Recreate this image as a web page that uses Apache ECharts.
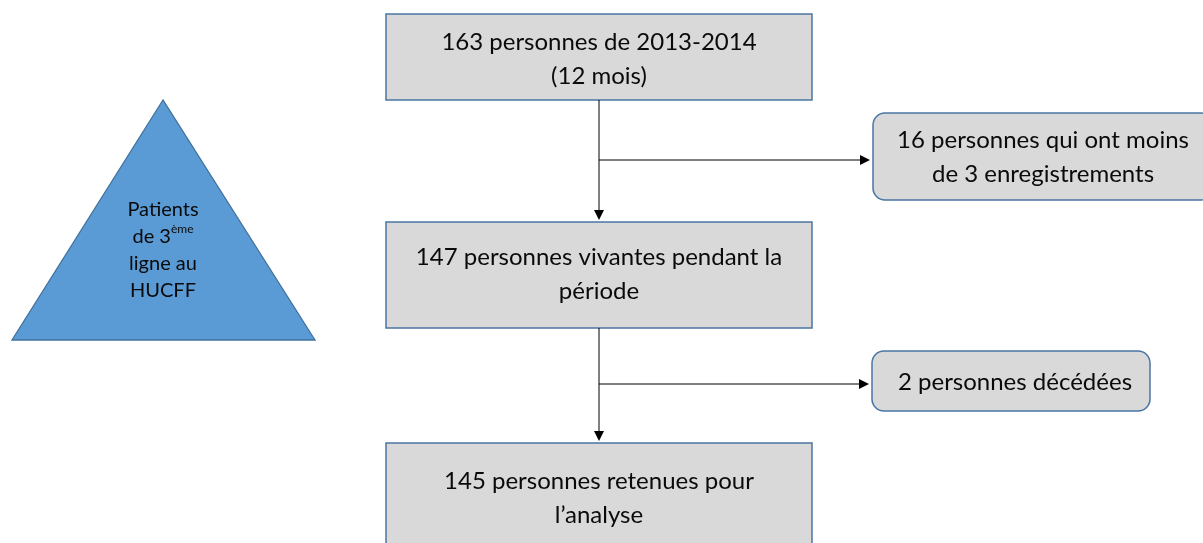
<!DOCTYPE html>
<html>
<head>
<meta charset="utf-8">
<script src="https://cdn.jsdelivr.net/npm/echarts@6/dist/echarts.min.js"></script>
<style>html,body{margin:0;padding:0;background:#fff;}#c{width:1203px;height:543px;}</style>
</head>
<body>
<div id="c"></div>
<script>
// Content
const mainBoxTexts = [
  "163 personnes de 2013-2014\n(12 mois)",
  "147 personnes vivantes pendant la\npériode",
  "145 personnes retenues pour\nl’analyse"
];
const exclusionTexts = [
  "16 personnes qui ont moins\nde 3 enregistrements",
  "2 personnes décédées"
];
const triangleText = "Patients\nde 3{sup|ème}\nligne au\nHUCFF";

// Layout (pixels)
const mainBoxes = [
  {x: 386, y: 14, w: 426, h: 86},
  {x: 386, y: 222, w: 426, h: 106},
  {x: 386, y: 443, w: 426, h: 110}
];
const exclBoxes = [
  {x: 873, y: 113, w: 340, h: 87},
  {x: 872, y: 351, w: 278, h: 60}
];
const branchY = [160, 384];
const trunkX = 599;

const FONT = 'Lato, "Open Sans", sans-serif';
const boxFill = '#d9d9d9', boxStroke = '#4a74a4';
const g = [];

// triangle
g.push({type:'polygon', shape:{points:[[163,100],[12,340],[315,340]]},
  style:{fill:'#5b9bd5', stroke:'#41719c', lineWidth:1.3}});
g.push({type:'text', x:163, y:250, style:{text:triangleText, fill:'#0a0a0a', font:'20px '+FONT,
  align:'center', verticalAlign:'middle', lineHeight:27,
  rich:{sup:{fontSize:12, verticalAlign:'top', lineHeight:27, padding:[0,0,12,0], fontFamily:FONT}}}});

// main boxes
mainBoxes.forEach((b,i)=>{
  g.push({type:'rect', shape:{x:b.x,y:b.y,width:b.w,height:b.h},
    style:{fill:boxFill, stroke:boxStroke, lineWidth:1.5}});
  const cy = i===2 ? 498 : b.y + b.h/2 + (i===0 ? 2 : -1);
  g.push({type:'text', x:b.x+b.w/2, y:cy, style:{text:mainBoxTexts[i], fill:'#0a0a0a',
    font:'24px '+FONT, align:'center', verticalAlign:'middle', lineHeight:34}});
});
// exclusion boxes
exclBoxes.forEach((b,i)=>{
  g.push({type:'rect', shape:{x:b.x,y:b.y,width:b.w,height:b.h, r:12},
    style:{fill:boxFill, stroke:boxStroke, lineWidth:1.5}});
  const cx = i===0 ? 1043 : b.x + b.w/2 + 4;
  g.push({type:'text', x:cx, y:b.y+b.h/2+1, style:{text:exclusionTexts[i], fill:'#0a0a0a',
    font:'24px '+FONT, align:'center', verticalAlign:'middle', lineHeight:34}});
});

// connectors
for (let i=0;i<2;i++){
  const top = mainBoxes[i].y + mainBoxes[i].h;
  const bot = mainBoxes[i+1].y - 2;
  g.push({type:'line', shape:{x1:trunkX,y1:top,x2:trunkX,y2:bot-9}, style:{stroke:'#000', lineWidth:1}});
  g.push({type:'polygon', shape:{points:[[trunkX-5,bot-10],[trunkX+5,bot-10],[trunkX,bot]]}, style:{fill:'#000'}});
  const ex = exclBoxes[i].x - 3;
  g.push({type:'line', shape:{x1:trunkX,y1:branchY[i],x2:ex-9,y2:branchY[i]}, style:{stroke:'#000', lineWidth:1}});
  g.push({type:'polygon', shape:{points:[[ex-10,branchY[i]-5],[ex-10,branchY[i]+5],[ex,branchY[i]]]}, style:{fill:'#000'}});
}

const chart = echarts.init(document.getElementById('c'), null, {renderer:'canvas'});
chart.setOption({animation:false, backgroundColor:'#fff', graphic:{elements:g}});
</script>
</body>
</html>
